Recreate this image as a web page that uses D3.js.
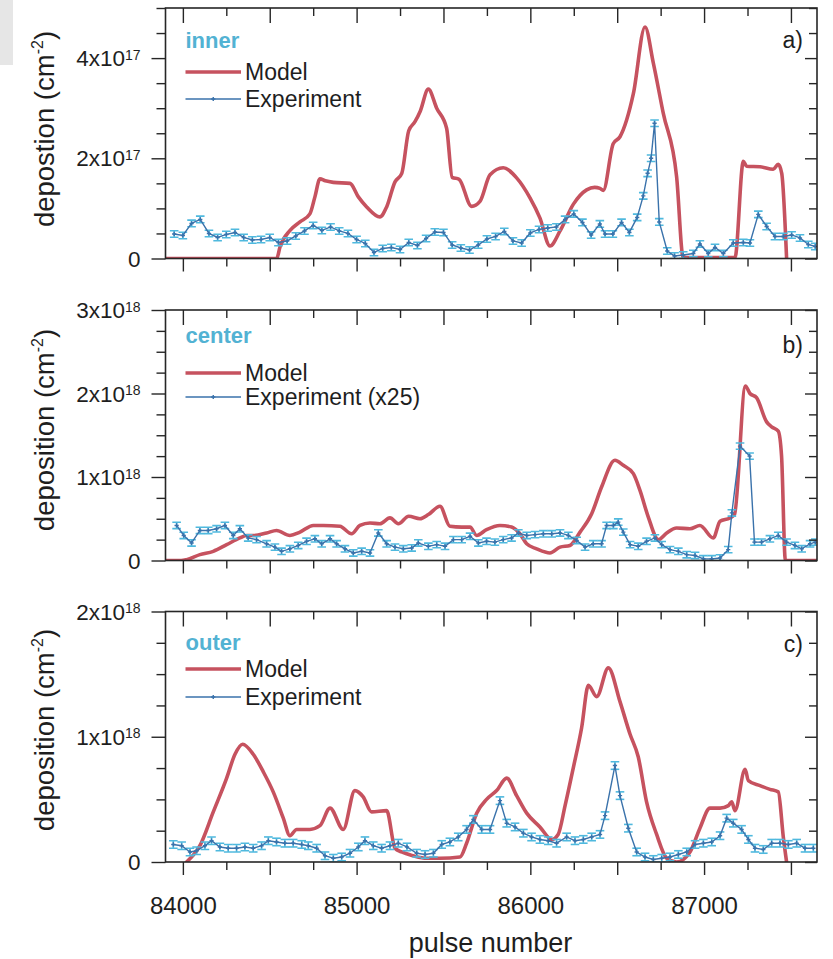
<!DOCTYPE html>
<html>
<head>
<meta charset="utf-8">
<script src="https://cdn.jsdelivr.net/npm/d3@7"></script>
<style>
  html, body { margin: 0; padding: 0; background: #fff; }
  svg { display: block; font-family: "Liberation Sans", Arial, Helvetica, sans-serif; }
</style>
</head>
<body>
<svg id="chart" width="833" height="959"></svg>
<script>
// ---------- data ----------
// shared pulse axis
const pulseDomain = [83900, 87650];
const pulseLabels = [84000, 85000, 86000, 87000];

// a) inner divertor, deposition in units of 1e17 cm^-2 : [pulse, value]
const innerModel = [[83900,0],[84540,0],[84559,0.23],[84617,0.56],[84674,0.73],[84731,0.89],[84760,1.23],[84789,1.59],
  [84820,1.55],[84866,1.52],[84962,1.50],[85010,1.23],[85058,1.03],[85134,0.83],[85173,1.03],[85221,1.53],[85260,1.70],
  [85300,2.55],[85336,2.73],[85365,2.93],[85413,3.38],[85461,3.00],[85518,2.60],[85550,1.62],[85590,1.58],[85662,1.04],
  [85710,1.14],[85768,1.67],[85844,1.81],[85921,1.61],[85998,1.21],[86055,0.81],[86113,0.25],[86171,0.55],[86247,1.08],
  [86324,1.37],[86370,1.42],[86401,1.40],[86420,1.36],[86477,2.29],[86516,2.43],[86593,3.29],[86660,4.62],[86708,3.90],
  [86765,2.90],[86842,1.63],[86880,0.02],[87178,0.02],[87226,1.94],[87245,1.84],[87322,1.83],[87398,1.78],[87427,1.88],
  [87447,1.70],[87475,0]];
const innerExp = [[83950,0.49],[84000,0.46],[84050,0.70],[84100,0.78],[84150,0.50],[84200,0.42],[84250,0.48],[84300,0.52],
  [84350,0.42],[84400,0.37],[84450,0.38],[84500,0.42],[84550,0.32],[84600,0.35],[84650,0.45],[84700,0.55],[84750,0.66],
  [84800,0.56],[84850,0.63],[84900,0.55],[84950,0.50],[85000,0.38],[85050,0.30],[85100,0.12],[85150,0.20],[85200,0.22],
  [85250,0.18],[85300,0.32],[85350,0.26],[85400,0.40],[85450,0.53],[85500,0.52],[85550,0.27],[85600,0.21],[85650,0.17],
  [85700,0.27],[85750,0.39],[85800,0.44],[85850,0.54],[85900,0.35],[85950,0.31],[86000,0.51],[86050,0.58],[86100,0.61],
  [86150,0.63],[86200,0.78],[86250,0.89],[86300,0.72],[86350,0.47],[86400,0.69],[86430,0.49],[86475,0.49],[86525,0.72],
  [86570,0.52],[86615,0.82],[86650,1.25],[86675,1.70],[86695,2.00],[86715,2.70],[86742,0.73],[86788,0.15],[86830,0.05],
  [86880,0.07],[86938,0.10],[86976,0.29],[87024,0.10],[87063,0.22],[87111,0.10],[87168,0.31],[87226,0.32],[87264,0.31],
  [87312,0.88],[87360,0.64],[87408,0.44],[87456,0.44],[87504,0.47],[87552,0.41],[87600,0.28],[87640,0.24]];
const innerErr = 0.065;

// b) center, units of 1e18 cm^-2 (experiment multiplied by 25)
const centerModel = [[83900,0],[83990,0],[84021,0.01],[84098,0.07],[84175,0.11],[84252,0.19],[84328,0.27],[84367,0.30],
  [84405,0.30],[84482,0.33],[84539,0.36],[84616,0.30],[84674,0.34],[84751,0.42],[84808,0.42],[84904,0.41],[84971,0.32],
  [85019,0.42],[85077,0.45],[85134,0.44],[85192,0.51],[85240,0.44],[85300,0.53],[85365,0.50],[85413,0.55],[85480,0.65],
  [85537,0.41],[85605,0.40],[85653,0.40],[85691,0.30],[85748,0.37],[85825,0.42],[85892,0.40],[85940,0.32],[85979,0.20],
  [86036,0.14],[86113,0.09],[86171,0.16],[86228,0.18],[86286,0.34],[86353,0.56],[86410,0.88],[86487,1.20],[86535,1.14],
  [86593,1.04],[86631,0.84],[86679,0.52],[86737,0.25],[86785,0.33],[86842,0.39],[86919,0.38],[86976,0.42],[87053,0.27],
  [87092,0.47],[87149,0.51],[87175,0.55],[87238,2.09],[87264,2.00],[87302,1.95],[87360,1.66],[87389,1.60],[87427,1.55],
  [87446,1.25],[87468,0],[87650,0]];
const centerExp = [[83964,0.42],[84005,0.30],[84050,0.21],[84098,0.36],[84146,0.36],[84194,0.38],[84242,0.42],[84290,0.30],
  [84328,0.38],[84376,0.27],[84424,0.25],[84482,0.20],[84530,0.16],[84568,0.11],[84616,0.14],[84664,0.18],[84712,0.23],
  [84760,0.26],[84799,0.20],[84847,0.26],[84885,0.20],[84933,0.14],[84981,0.09],[85029,0.11],[85077,0.09],[85125,0.33],
  [85173,0.20],[85221,0.16],[85269,0.14],[85317,0.15],[85355,0.21],[85413,0.17],[85461,0.19],[85509,0.17],[85557,0.25],
  [85605,0.25],[85653,0.29],[85701,0.21],[85748,0.23],[85796,0.22],[85844,0.25],[85892,0.27],[85931,0.33],[85979,0.30],
  [86027,0.31],[86075,0.32],[86123,0.32],[86171,0.33],[86219,0.30],[86267,0.24],[86315,0.16],[86362,0.20],[86410,0.20],
  [86439,0.42],[86478,0.42],[86506,0.46],[86535,0.34],[86574,0.19],[86621,0.17],[86669,0.23],[86717,0.27],[86756,0.19],
  [86804,0.13],[86852,0.11],[86900,0.07],[86948,0.06],[86996,0.02],[87044,0.02],[87092,0.03],[87139,0.13],[87160,0.57],
  [87207,1.37],[87262,1.25],[87290,0.22],[87331,0.22],[87379,0.26],[87427,0.30],[87475,0.22],[87523,0.18],[87562,0.14],
  [87610,0.20],[87640,0.22]];
const centerErr = 0.038;

// c) outer divertor, units of 1e18 cm^-2
const outerModel = [[84021,0],[84098,0.13],[84175,0.40],[84252,0.67],[84300,0.86],[84344,0.94],[84405,0.86],[84463,0.72],
  [84520,0.56],[84578,0.35],[84616,0.21],[84655,0.26],[84731,0.26],[84789,0.29],[84847,0.43],[84923,0.26],[84990,0.57],
  [85038,0.52],[85086,0.40],[85173,0.41],[85221,0.11],[85259,0.08],[85326,0.05],[85403,0.03],[85480,0.03],[85595,0.04],
  [85633,0.15],[85691,0.39],[85748,0.50],[85806,0.57],[85864,0.67],[85921,0.53],[85979,0.39],[86055,0.28],[86123,0.18],
  [86160,0.22],[86200,0.45],[86247,0.75],[86295,1.07],[86334,1.41],[86382,1.32],[86449,1.55],[86516,1.28],[86574,1.02],
  [86621,0.84],[86669,0.48],[86727,0.22],[86785,0.03],[86842,0],[86919,0.08],[86976,0.27],[87034,0.43],[87092,0.43],
  [87140,0.45],[87159,0.48],[87178,0.41],[87236,0.74],[87255,0.65],[87322,0.61],[87379,0.58],[87427,0.56],[87456,0.20],
  [87480,-0.05]];
const outerExp = [[83945,0.14],[83993,0.13],[84041,0.08],[84079,0.09],[84127,0.13],[84165,0.17],[84213,0.12],[84261,0.11],
  [84309,0.11],[84357,0.12],[84405,0.11],[84453,0.13],[84492,0.17],[84539,0.16],[84587,0.15],[84635,0.15],[84684,0.14],
  [84722,0.13],[84770,0.11],[84818,0.05],[84866,0.03],[84914,0.04],[84962,0.07],[85010,0.12],[85048,0.17],[85096,0.13],
  [85144,0.11],[85192,0.13],[85240,0.15],[85290,0.12],[85346,0.07],[85394,0.06],[85442,0.07],[85490,0.14],[85537,0.16],
  [85585,0.20],[85633,0.26],[85672,0.34],[85720,0.26],[85768,0.26],[85825,0.49],[85864,0.31],[85912,0.28],[85960,0.23],
  [86007,0.20],[86055,0.18],[86103,0.17],[86151,0.15],[86209,0.20],[86257,0.17],[86305,0.18],[86353,0.20],[86401,0.22],
  [86430,0.37],[86487,0.77],[86516,0.53],[86564,0.27],[86612,0.08],[86660,0.04],[86708,0.02],[86756,0.03],[86804,0.04],
  [86852,0.06],[86900,0.08],[86948,0.14],[86996,0.15],[87044,0.16],[87092,0.21],[87130,0.35],[87168,0.31],[87216,0.26],
  [87255,0.18],[87293,0.11],[87341,0.10],[87389,0.15],[87437,0.15],[87485,0.14],[87533,0.15],[87581,0.11],[87629,0.11]];
const outerErr = 0.03;

// y-axis tick values (in panel units) and exponents
const innerTicks = [0, 2, 4];
const centerTicks = [0, 1, 2, 3];
const outerTicks = [0, 1, 2];

// ---------- layout & style ----------
const ink = "#262626";
const modelColor = "#c6525f";
const expLineColor = "#3a72ab";
const expBarColor = "#4fb9de";
const tagColor = "#52b2d3";
const plotLeft = 165.5, plotRight = 817, plotH = 250.5;

const panels = [
  { top: 8,     yMax: 5, minorStep: 0.5,  ticks: innerTicks,  exp: "17", model: innerModel,  data: innerExp,  err: innerErr,
    tag: "inner",  expName: "Experiment",        title: "depostion",  titleY: 129, letter: "a)",
    tagY: 40, modelY: 72, expY: 99, letterY: 40, xLabels: false },
  { top: 310,   yMax: 3, minorStep: 0.25, ticks: centerTicks, exp: "18", model: centerModel, data: centerExp, err: centerErr,
    tag: "center", expName: "Experiment (x25)",  title: "deposition", titleY: 430, letter: "b)",
    tagY: 33, modelY: 71, expY: 95, letterY: 43, xLabels: false },
  { top: 611.5, yMax: 2, minorStep: 0.25, ticks: outerTicks,  exp: "18", model: outerModel,  data: outerExp,  err: outerErr,
    tag: "outer",  expName: "Experiment",        title: "deposition", titleY: 730, letter: "c)",
    tagY: 38.5, modelY: 65.5, expY: 93.5, letterY: 40, xLabels: true }
];

const svg = d3.select("#chart");
const defs = svg.append("defs");

// light scan-edge block in the top-left corner
svg.append("rect").attr("x", 0).attr("y", 0).attr("width", 13).attr("height", 65).attr("fill", "#e6e6e6");

const x = d3.scaleLinear().domain(pulseDomain).range([plotLeft, plotRight]);
const xMajor = d3.range(84000, 87501, 500);
const xMinor = d3.range(84250, 87501, 500);

function styleAxis(g) {
  g.select(".domain").remove();
  g.selectAll(".tick line").attr("stroke", ink).attr("stroke-width", 1.4);
  g.selectAll(".tick text").attr("fill", "#1e1e1e");
}

panels.forEach((p, i) => {
  const bottom = p.top + plotH;
  const y = d3.scaleLinear().domain([0, p.yMax]).range([bottom, p.top]);
  const g = svg.append("g");

  const clipId = "plot-clip-" + i;
  defs.append("clipPath").attr("id", clipId)
    .append("rect").attr("x", plotLeft).attr("y", p.top)
    .attr("width", plotRight - plotLeft).attr("height", plotH);
  const plot = g.append("g").attr("clip-path", `url(#${clipId})`);

  // model curve
  plot.append("path").datum(p.model)
    .attr("fill", "none").attr("stroke", modelColor).attr("stroke-width", 3.6)
    .attr("stroke-linejoin", "round").attr("stroke-linecap", "round")
    .attr("d", d3.line().x(d => x(d[0])).y(d => y(d[1])).curve(d3.curveMonotoneX));

  // experiment: error bars, line, markers
  const bars = plot.append("g").attr("stroke", expBarColor).attr("stroke-width", 1.6).attr("fill", "none");
  p.data.forEach(d => {
    const cx = x(d[0]), y1 = y(d[1] + p.err), y0 = y(Math.max(0, d[1] - p.err));
    bars.append("line").attr("x1", cx).attr("x2", cx).attr("y1", y0).attr("y2", y1);
    bars.append("line").attr("x1", cx - 4.3).attr("x2", cx + 4.3).attr("y1", y1).attr("y2", y1);
    bars.append("line").attr("x1", cx - 4.3).attr("x2", cx + 4.3).attr("y1", y0).attr("y2", y0);
  });
  plot.append("path").datum(p.data)
    .attr("fill", "none").attr("stroke", expLineColor).attr("stroke-width", 1.4)
    .attr("d", d3.line().x(d => x(d[0])).y(d => y(d[1])));
  plot.append("g").selectAll("path").data(p.data).join("path")
    .attr("d", d3.symbol(d3.symbolCross, 10))
    .attr("transform", d => `translate(${x(d[0])},${y(d[1])})`)
    .attr("fill", expLineColor);

  // frame
  g.append("rect").attr("x", plotLeft).attr("y", p.top)
    .attr("width", plotRight - plotLeft).attr("height", plotH)
    .attr("fill", "none").attr("stroke", ink).attr("stroke-width", 1.6);

  // x axes: bottom outward, top inward
  g.append("g").attr("transform", `translate(0,${bottom})`)
    .call(d3.axisBottom(x).tickValues(xMajor).tickSize(13).tickSizeOuter(0)
      .tickPadding(21.5).tickFormat(d => (p.xLabels && pulseLabels.includes(d)) ? d3.format("d")(d) : ""))
    .call(styleAxis)
    .call(s => s.selectAll(".tick text").attr("font-size", 24).attr("font-family", null));
  g.append("g").attr("transform", `translate(0,${bottom})`)
    .call(d3.axisBottom(x).tickValues(xMinor).tickSize(8).tickSizeOuter(0).tickFormat(""))
    .call(styleAxis);
  g.append("g").attr("transform", `translate(0,${p.top})`)
    .call(d3.axisTop(x).tickValues(xMajor).tickSize(-15).tickSizeOuter(0).tickFormat(""))
    .call(styleAxis);
  g.append("g").attr("transform", `translate(0,${p.top})`)
    .call(d3.axisTop(x).tickValues(xMinor).tickSize(-8).tickSizeOuter(0).tickFormat(""))
    .call(styleAxis);

  // y axes: left outward with labels, right inward
  const yMinor = d3.range(0, p.yMax + 1e-9, p.minorStep).filter(v => !p.ticks.includes(v));
  const left = g.append("g").attr("transform", `translate(${plotLeft},0)`)
    .call(d3.axisLeft(y).tickValues(p.ticks).tickSize(14).tickSizeOuter(0).tickPadding(11)
      .tickFormat(d => d === 0 ? "0" : d + "x10"))
    .call(styleAxis);
  left.selectAll(".tick text").attr("font-size", 22.5).attr("font-family", null)
    .attr("dy", "0.34em")
    .each(function (d) {
      if (d !== 0) d3.select(this).append("tspan").attr("font-size", 14).attr("dy", -6.5).text(p.exp);
    });
  g.append("g").attr("transform", `translate(${plotLeft},0)`)
    .call(d3.axisLeft(y).tickValues(yMinor).tickSize(9).tickSizeOuter(0).tickFormat(""))
    .call(styleAxis);
  g.append("g").attr("transform", `translate(${plotRight},0)`)
    .call(d3.axisRight(y).tickValues(p.ticks).tickSize(-12).tickSizeOuter(0).tickFormat(""))
    .call(styleAxis);
  g.append("g").attr("transform", `translate(${plotRight},0)`)
    .call(d3.axisRight(y).tickValues(yMinor).tickSize(-8).tickSizeOuter(0).tickFormat(""))
    .call(styleAxis);

  // y-axis title
  const t = g.append("text")
    .attr("transform", `translate(53.5,${p.titleY}) rotate(-90)`)
    .attr("text-anchor", "middle").attr("font-size", 27.5).attr("fill", "#1e1e1e");
  t.append("tspan").text(p.title + " (cm");
  t.append("tspan").attr("font-size", 16).attr("dy", -11).text("-2");
  t.append("tspan").attr("dy", 11).text(")");

  // region tag and legend
  const lx0 = 185.5, lx1 = 241, tx = 245;
  g.append("text").attr("x", lx0).attr("y", p.top + p.tagY)
    .attr("font-size", 22).attr("font-weight", "bold").attr("fill", tagColor).text(p.tag);

  g.append("line").attr("x1", lx0).attr("x2", lx1)
    .attr("y1", p.top + p.modelY - 8).attr("y2", p.top + p.modelY - 8)
    .attr("stroke", modelColor).attr("stroke-width", 3.6);
  g.append("text").attr("x", tx).attr("y", p.top + p.modelY)
    .attr("font-size", 23).attr("fill", "#1e1e1e").text("Model");

  const ey = p.top + p.expY - 8;
  g.append("line").attr("x1", lx0).attr("x2", lx1).attr("y1", ey).attr("y2", ey)
    .attr("stroke", expLineColor).attr("stroke-width", 1.3);
  g.append("path").attr("d", d3.symbol(d3.symbolCross, 10))
    .attr("transform", `translate(${(lx0 + lx1) / 2},${ey})`).attr("fill", expLineColor);
  g.append("text").attr("x", tx).attr("y", p.top + p.expY)
    .attr("font-size", 23).attr("fill", "#1e1e1e").text(p.expName);

  // panel letter
  g.append("text").attr("x", 803).attr("y", p.top + p.letterY)
    .attr("text-anchor", "end").attr("font-size", 23).attr("fill", "#1e1e1e").text(p.letter);
});

// x-axis title
svg.append("text").attr("x", 490.5).attr("y", 952)
  .attr("text-anchor", "middle").attr("font-size", 27).attr("fill", "#1e1e1e").text("pulse number");
</script>
</body>
</html>
